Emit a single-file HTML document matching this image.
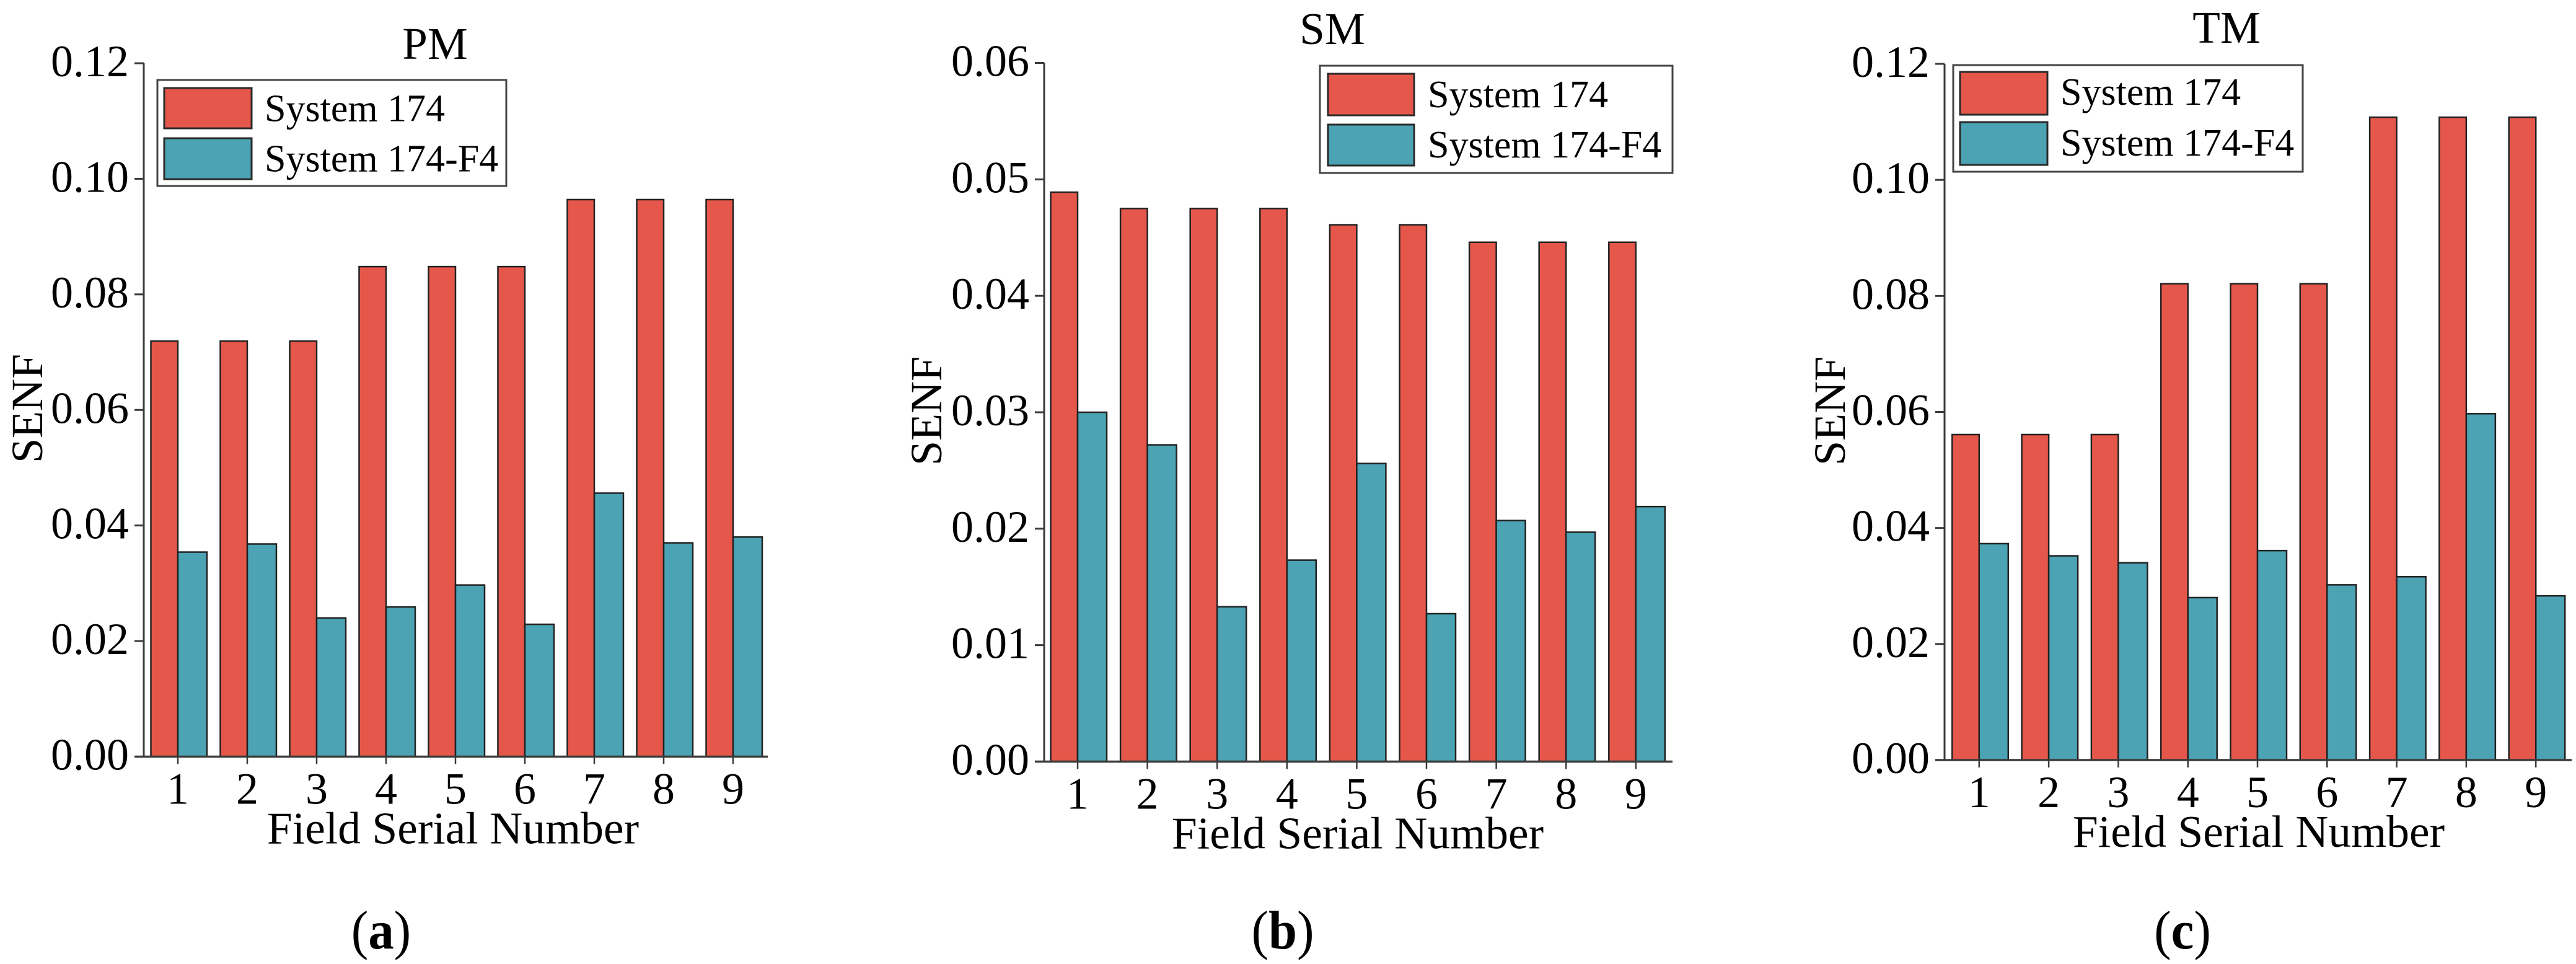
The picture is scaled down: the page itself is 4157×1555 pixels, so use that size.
<!DOCTYPE html>
<html lang="en">
<head>
<meta charset="utf-8">
<title>SENF by field serial number: PM, SM, TM</title>
<style>
  html, body { margin: 0; padding: 0; background: #fff; }
  svg { display: block; }
  text { font-family: "Liberation Serif", "Times New Roman", serif; fill: #000; }
  .tick { font-size: 72px; }
  .axis-title { font-size: 73.5px; }
  .title { font-size: 73px; }
  .legend-text { font-size: 62px; }
  .caption { font-size: 88px; }
  .caption-letter { font-weight: bold; }
</style>
</head>
<body>
<svg id="figure" xmlns="http://www.w3.org/2000/svg" width="4157" height="1555" viewBox="0 0 4157 1555">
  <rect x="0" y="0" width="4157" height="1555" fill="#ffffff"/>

  <g id="panel-a">
    <text class="title" x="702" y="95" text-anchor="middle">PM</text>
  </g>
  <g id="panel-b">
    <text class="title" x="2150" y="71" text-anchor="middle">SM</text>
  </g>
  <g id="panel-c">
    <text class="title" x="3593" y="69" text-anchor="middle">TM</text>
  </g>

  <g>
    <rect x="254" y="129" width="563" height="171" fill="#fff" stroke="#444" stroke-width="3"/>
    <rect x="265" y="142" width="141" height="65" fill="#E5574A" stroke="#2a2a2a" stroke-width="3"/>
    <text class="legend-text" x="427" y="195.5">System 174</text>
    <rect x="265" y="223" width="141" height="66" fill="#4BA3B3" stroke="#2a2a2a" stroke-width="3"/>
    <text class="legend-text" x="427" y="276.5">System 174-F4</text>
  </g>
  <g>
    <rect x="2130" y="106" width="569" height="173" fill="#fff" stroke="#444" stroke-width="3"/>
    <rect x="2143" y="119" width="139" height="67" fill="#E5574A" stroke="#2a2a2a" stroke-width="3"/>
    <text class="legend-text" x="2304" y="173">System 174</text>
    <rect x="2143" y="201" width="139" height="66" fill="#4BA3B3" stroke="#2a2a2a" stroke-width="3"/>
    <text class="legend-text" x="2304" y="254">System 174-F4</text>
  </g>
  <g>
    <rect x="3152" y="105" width="564" height="172" fill="#fff" stroke="#444" stroke-width="3"/>
    <rect x="3163" y="116" width="141" height="69" fill="#E5574A" stroke="#2a2a2a" stroke-width="3"/>
    <text class="legend-text" x="3325" y="169">System 174</text>
    <rect x="3163" y="197" width="141" height="69" fill="#4BA3B3" stroke="#2a2a2a" stroke-width="3"/>
    <text class="legend-text" x="3325" y="251">System 174-F4</text>
  </g>

  <text class="caption" text-anchor="middle" transform="translate(615 1530) scale(0.94 1)">(<tspan class="caption-letter">a</tspan>)</text>
  <text class="caption" text-anchor="middle" transform="translate(2070 1530) scale(0.94 1)">(<tspan class="caption-letter">b</tspan>)</text>
  <text class="caption" text-anchor="middle" transform="translate(3522 1530) scale(0.94 1)">(<tspan class="caption-letter">c</tspan>)</text>
</svg>

<script>
// Chart data
const categories = ['1', '2', '3', '4', '5', '6', '7', '8', '9'];

const pmTickLabels = ['0.00', '0.02', '0.04', '0.06', '0.08', '0.10', '0.12'];
const pmSystem174 = [0.0719, 0.0719, 0.0719, 0.0848, 0.0848, 0.0848, 0.0964, 0.0964, 0.0964];
const pmSystem174F4 = [0.0354, 0.0368, 0.0240, 0.0259, 0.0297, 0.0229, 0.0456, 0.0370, 0.0380];

const smTickLabels = ['0.00', '0.01', '0.02', '0.03', '0.04', '0.05', '0.06'];
const smSystem174 = [0.0489, 0.0475, 0.0475, 0.0475, 0.0461, 0.0461, 0.0446, 0.0446, 0.0446];
const smSystem174F4 = [0.0300, 0.0272, 0.0133, 0.0173, 0.0256, 0.0127, 0.0207, 0.0197, 0.0219];

const tmTickLabels = ['0.00', '0.02', '0.04', '0.06', '0.08', '0.10', '0.12'];
const tmSystem174 = [0.0561, 0.0561, 0.0561, 0.0821, 0.0821, 0.0821, 0.1108, 0.1108, 0.1108];
const tmSystem174F4 = [0.0373, 0.0352, 0.0340, 0.0280, 0.0361, 0.0302, 0.0316, 0.0597, 0.0283];

const RED = '#E5574A';
const TEAL = '#4BA3B3';
const EDGE = '#222222';
const AXIS = '#3a3a3a';
const NS = 'http://www.w3.org/2000/svg';

function make(parent, tag, attrs, text) {
  const el = document.createElementNS(NS, tag);
  for (const k in attrs) el.setAttribute(k, attrs[k]);
  if (text !== undefined) el.textContent = text;
  parent.appendChild(el);
  return el;
}

function drawPanel(root, ticks, redValues, tealValues, frame) {
  const domainMax = parseFloat(ticks[ticks.length - 1]);
  const yScale = function (v) { return frame.baseY - (v / domainMax) * (frame.baseY - frame.topY); };
  const xScale = function (i) { return frame.firstX + i * frame.stepX; };
  const title = root.firstElementChild;

  // bars
  categories.forEach(function (cat, i) {
    const cx = xScale(i);
    const redBar = make(root, 'rect', {
      x: cx - frame.redW, y: yScale(redValues[i]), width: frame.redW,
      height: frame.baseY - yScale(redValues[i]),
      fill: RED, stroke: EDGE, 'stroke-width': 2.5
    });
    
    
    const tealBar = make(root, 'rect', {
      x: cx, y: yScale(tealValues[i]), width: frame.tealW,
      height: frame.baseY - yScale(tealValues[i]),
      fill: TEAL, stroke: EDGE, 'stroke-width': 2.5
    });
    
    
  });

  // y axis
  const yAxis = make(root, 'line', {
    x1: frame.axisX, x2: frame.axisX, y1: frame.topY, y2: frame.baseY,
    stroke: AXIS, 'stroke-width': 3
  });
  
  

  ticks.forEach(function (label) {
    const y = yScale(parseFloat(label));
    const tick = make(root, 'line', {
      x1: frame.axisX - 15, x2: frame.axisX, y1: y, y2: y,
      stroke: AXIS, 'stroke-width': 3
    });
    
    
    const tickLabel = make(root, 'text', {
      class: 'tick', x: frame.axisX - 24, y: y + 21, 'text-anchor': 'end'
    }, label);
    
    
  });

  // x axis
  const xAxis = make(root, 'line', {
    x1: frame.axisX - 15, x2: frame.xEnd, y1: frame.baseY, y2: frame.baseY,
    stroke: AXIS, 'stroke-width': 3.5
  });
  
  

  categories.forEach(function (cat, i) {
    const cx = xScale(i);
    const tick = make(root, 'line', {
      x1: cx, x2: cx, y1: frame.baseY, y2: frame.baseY + 12,
      stroke: AXIS, 'stroke-width': 2.5
    });
    
    
    const tickLabel = make(root, 'text', {
      class: 'tick', x: cx, y: frame.baseY + 76, 'text-anchor': 'middle'
    }, cat);
    
    
  });

  // axis titles
  const xTitle = make(root, 'text', {
    class: 'axis-title', x: frame.xTitleX, y: frame.baseY + 140, 'text-anchor': 'middle'
  }, 'Field Serial Number');
  
  

  const yTitle = make(root, 'text', {
    class: 'tick', 'text-anchor': 'middle',
    transform: 'translate(' + frame.yTitleX + ' ' + frame.yTitleY + ') rotate(-90)'
  }, 'SENF');
  
  

  root.appendChild(title);
}

drawPanel(document.getElementById('panel-a'), pmTickLabels, pmSystem174, pmSystem174F4, {
  axisX: 232, topY: 102, baseY: 1220.5, firstX: 287, stepX: 112, redW: 43.5, tealW: 47,
  xEnd: 1239, xTitleX: 731, yTitleX: 68, yTitleY: 659
});
drawPanel(document.getElementById('panel-b'), smTickLabels, smSystem174, smSystem174F4, {
  axisX: 1685, topY: 101.5, baseY: 1228.5, firstX: 1739, stepX: 112.6, redW: 43.5, tealW: 47,
  xEnd: 2699, xTitleX: 2191, yTitleX: 1519, yTitleY: 663
});
drawPanel(document.getElementById('panel-c'), tmTickLabels, tmSystem174, tmSystem174F4, {
  axisX: 3138, topY: 103, baseY: 1226, firstX: 3193.8, stepX: 112.3, redW: 43.5, tealW: 47,
  xEnd: 4150, xTitleX: 3645, yTitleX: 2977, yTitleY: 663
});
</script>
</body>
</html>
